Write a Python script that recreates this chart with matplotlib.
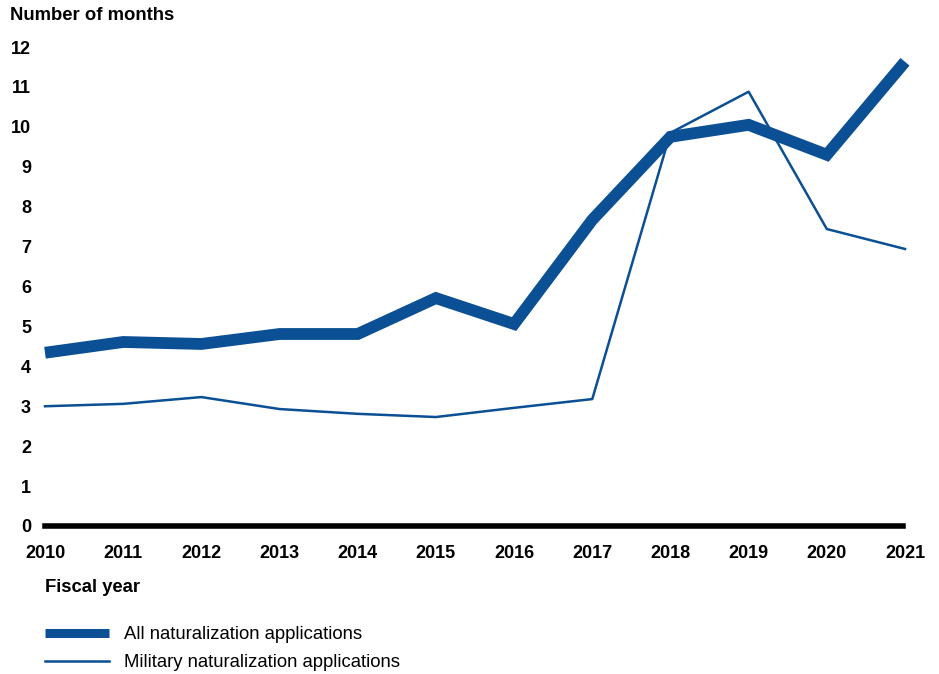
import matplotlib.pyplot as plt
from matplotlib.lines import Line2D

plt.rcParams['font.family'] = ['Liberation Sans', 'DejaVu Sans']

# Data
years = [2010, 2011, 2012, 2013, 2014, 2015, 2016, 2017, 2018, 2019, 2020, 2021]
all_apps = [4.34, 4.61, 4.56, 4.81, 4.81, 5.71, 5.06, 7.67, 9.75, 10.05, 9.3, 11.63]
military_apps = [3.0, 3.06, 3.23, 2.93, 2.81, 2.73, 2.96, 3.18, 9.85, 10.88, 7.44, 6.94]
y_ticks = list(range(0, 13))

blue = '#0b4f94'

fig = plt.figure(figsize=(9.39, 6.74), dpi=100)
ax = fig.add_axes([45 / 939, 1 - 526 / 674, (905 - 45) / 939, (526 - 47) / 674])

ax.plot(years, all_apps, color=blue, lw=8.5, solid_joinstyle='miter', solid_capstyle='butt', clip_on=False, zorder=3)
ax.plot(years, military_apps, color=blue, lw=1.8, clip_on=False, zorder=4)
ax.axhline(0, color='black', lw=4, xmin=0, xmax=0.998, zorder=5, clip_on=False)

ax.set_xlim(years[0], years[-1])
ax.set_ylim(0, 12)
ax.set_xticks(years)
ax.set_yticks(y_ticks)
ax.tick_params(axis='both', length=0, labelsize=13)
ax.tick_params(axis='y', pad=10)
ax.tick_params(axis='x', pad=14)
for lab in ax.get_xticklabels() + ax.get_yticklabels():
    lab.set_fontweight('bold')
for s in ax.spines.values():
    s.set_visible(False)

fig.text(10 / 939, 1 - 15 / 674, 'Number of months', fontsize=13.3, fontweight='bold', va='center', ha='left')
fig.text(45 / 939, 1 - 588 / 674, 'Fiscal year', fontsize=13.3, fontweight='bold', va='center', ha='left')

handles = [Line2D([], [], color=blue, lw=6.5, solid_capstyle='butt'),
           Line2D([], [], color=blue, lw=1.8)]
fig.legend(handles, ['All naturalization applications', 'Military naturalization applications'],
           loc='upper left', bbox_to_anchor=(38 / 939, 1 - 619 / 674), frameon=False,
           fontsize=13.3, handlelength=3.45, handletextpad=0.8, labelspacing=0.6, borderaxespad=0)

fig.savefig('out.png', dpi=100)
